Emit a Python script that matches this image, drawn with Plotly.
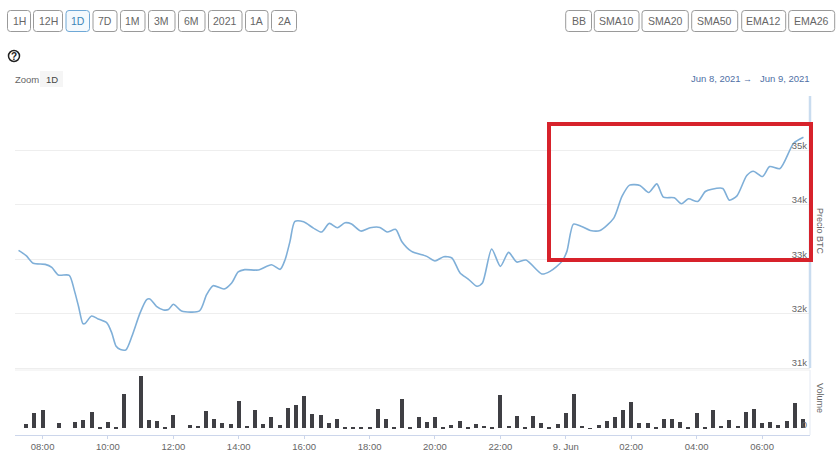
import pandas as pd
import plotly.graph_objects as go
from plotly.subplots import make_subplots

W = 840
H = 455

# price line
price_times = [
    "06-08 07:16", "06-08 07:30", "06-08 07:43", "06-08 08:05", "06-08 08:17", "06-08 08:29",
    "06-08 08:49", "06-08 08:58", "06-08 09:06", "06-08 09:14", "06-08 09:18", "06-08 09:30",
    "06-08 09:42", "06-08 09:58", "06-08 10:07", "06-08 10:15", "06-08 10:23", "06-08 10:33",
    "06-08 10:44", "06-08 10:59", "06-08 11:11", "06-08 11:17", "06-08 11:29", "06-08 11:42",
    "06-08 11:51", "06-08 12:00", "06-08 12:15", "06-08 12:48", "06-08 13:01", "06-08 13:13",
    "06-08 13:33", "06-08 13:47", "06-08 13:59", "06-08 14:11", "06-08 14:36", "06-08 15:00",
    "06-08 15:16", "06-08 15:25", "06-08 15:34", "06-08 15:43", "06-08 15:59", "06-08 16:17",
    "06-08 16:32", "06-08 16:46", "06-08 17:01", "06-08 17:15", "06-08 17:27", "06-08 17:44",
    "06-08 18:01", "06-08 18:19", "06-08 18:32", "06-08 18:48", "06-08 18:59", "06-08 19:17",
    "06-08 19:45", "06-08 20:00", "06-08 20:16", "06-08 20:31", "06-08 20:46", "06-08 21:01",
    "06-08 21:17", "06-08 21:27", "06-08 21:44", "06-08 22:00", "06-08 22:15", "06-08 22:30",
    "06-08 22:47", "06-08 23:16", "06-08 23:31", "06-08 23:53", "06-09 00:02", "06-09 00:14",
    "06-09 00:29", "06-09 00:45", "06-09 01:03", "06-09 01:28", "06-09 01:43", "06-09 01:57",
    "06-09 02:16", "06-09 02:32", "06-09 02:47", "06-09 02:59", "06-09 03:19", "06-09 03:32",
    "06-09 03:45", "06-09 04:02", "06-09 04:16", "06-09 04:28", "06-09 04:48", "06-09 05:00",
    "06-09 05:14", "06-09 05:32", "06-09 05:44", "06-09 06:01", "06-09 06:14", "06-09 06:33",
    "06-09 06:58", "06-09 07:16",
]
price_values = [
    33162, 33065, 32924, 32905, 32850, 32710,
    32704, 32441, 32135, 31817, 31817, 31957,
    31902, 31829, 31646, 31401, 31340, 31334,
    31584, 32013, 32257, 32269, 32135, 32068,
    32074, 32172, 32049, 32049, 32349, 32514,
    32453, 32563, 32765, 32808, 32802, 32899,
    32814, 32991, 33327, 33694, 33688, 33572,
    33499, 33658, 33578, 33670, 33646, 33517,
    33578, 33584, 33499, 33548, 33327, 33144,
    33052, 32967, 33046, 33022, 32746, 32636,
    32502, 32563, 33187, 32869, 33126, 32948,
    32985, 32728, 32777, 32960, 33144, 33645,
    33602, 33529, 33529, 33755, 34153, 34361,
    34355, 34226, 34385, 34141, 34128, 34018,
    34110, 34061, 34245, 34287, 34300, 34086,
    34165, 34538, 34618, 34520, 34703, 34667,
    35131, 35241,
]

# one bar every 15 minutes from 07:30 to 07:15 next day
volume_values = [
    12, 46, 54, 0, 15, 0, 19, 26, 50, 5, 19, 3,
    104, 0, 158, 25, 23, 2, 40, 0, 10, 8, 52, 29,
    15, 12, 81, 8, 56, 12, 33, 10, 62, 70, 96, 44,
    41, 17, 29, 5, 5, 5, 5, 57, 27, 5, 88, 5,
    33, 19, 34, 5, 10, 23, 4, 12, 6, 4, 100, 6,
    36, 4, 36, 17, 2, 12, 46, 103, 8, 1, 10, 23,
    33, 54, 79, 17, 15, 3, 27, 29, 19, 4, 46, 2,
    54, 8, 25, 8, 48, 58, 17, 19, 10, 23, 77, 29,
]

x_ticks = ["06-08 08:00", "06-08 10:00", "06-08 12:00", "06-08 14:00", "06-08 16:00", "06-08 18:00",
           "06-08 20:00", "06-08 22:00", "06-09 00:00", "06-09 02:00", "06-09 04:00", "06-09 06:00"]
x_labels = ["08:00", "10:00", "12:00", "14:00", "16:00", "18:00",
            "20:00", "22:00", "9. Jun", "02:00", "04:00", "06:00"]
price_ticks = [31000, 32000, 33000, 34000, 35000, 36000]
price_labels = ["31k", "32k", "33k", "34k", "35k", ""]

left_buttons = ["1H", "12H", "1D", "7D", "1M", "3M", "6M", "2021", "1A", "2A"]
left_edges = [(7.5, 30.5), (33.5, 62.5), (66, 89.5), (93, 117), (120.5, 145), (148.5, 175),
              (178.5, 205), (208.5, 242), (245.5, 268), (271.5, 296.5)]
right_buttons = ["BB", "SMA10", "SMA20", "SMA50", "EMA12", "EMA26"]
right_edges = [(565.7, 591.5), (594.3, 639), (642, 688.3), (691.7, 737.7), (741.7, 785.7), (788.7, 834.7)]


def ts(s):
    return pd.Timestamp("2021-" + s)


def px_x(x):
    return x / W


def px_y(y):
    return 1 - y / H


def round_rect(x0, y0, x1, y1, r=3):
    a, b, c, d = px_x(x0), px_y(y0), px_x(x1), px_y(y1)
    rx, ry = r / W, r / H
    return (f"M{a + rx},{b} L{c - rx},{b} Q{c},{b} {c},{b - ry} L{c},{d + ry} Q{c},{d} {c - rx},{d} "
            f"L{a + rx},{d} Q{a},{d} {a},{d + ry} L{a},{b - ry} Q{a},{b} {a + rx},{b} Z")


def label(fig, x, y, text, size=10, color="#666666", anchor="center", angle=0, family="Liberation Sans"):
    fig.add_annotation(x=px_x(x), y=px_y(y), xref="paper", yref="paper", text=text, showarrow=False,
                       xanchor=anchor, yanchor="middle", textangle=angle,
                       font=dict(size=size, color=color, family=family))


fig = make_subplots(rows=2, cols=1, shared_xaxes=True)

fig.add_trace(go.Scatter(x=[ts(t) for t in price_times], y=price_values, mode="lines",
                         line=dict(color="#7fafd8", width=1.6, shape="spline", smoothing=0.7),
                         showlegend=False), row=1, col=1)

bar_times = pd.date_range("2021-06-08 07:30", periods=len(volume_values), freq="15min")
fig.add_trace(go.Bar(x=bar_times, y=volume_values, width=440000, marker=dict(color="#3f3f44", line_width=0),
                     showlegend=False), row=2, col=1)

x_range = [pd.Timestamp("2021-06-08 07:09:30"), pd.Timestamp("2021-06-09 07:28:00")]
x_domain = [15 / W, 810 / W]

fig.update_xaxes(domain=x_domain, range=x_range, showgrid=False, zeroline=False, row=1, col=1,
                 showticklabels=False, ticks="", showline=False)
fig.update_xaxes(domain=x_domain, range=x_range, showgrid=False, zeroline=False, row=2, col=1,
                 tickmode="array", tickvals=[ts(t) for t in x_ticks], ticktext=x_labels,
                 ticks="outside", ticklen=3, tickcolor="#ccd6eb", showline=True, linecolor="#ccd6eb",
                 linewidth=1, tickfont=dict(size=9.5, color="#666666", family="Liberation Sans"))

# price axis runs a little below 31k so plotly keeps the inside 31k label
fig.update_yaxes(domain=[(H - 373.45) / H, (H - 96) / H], range=[30900, 36000], side="right",
                 tickmode="array", tickvals=price_ticks, ticktext=price_labels,
                 ticklabelposition="inside", ticklabelshift=-5, showgrid=True, gridcolor="#eeeeee", gridwidth=1,
                 zeroline=False, showline=False, ticks="",
                 tickfont=dict(size=9.5, color="#666666", family="Liberation Sans"), row=1, col=1)
fig.update_yaxes(domain=[(H - 435) / H, (H - 370) / H], range=[-20, 175], side="right",
                 tickmode="array", tickvals=[0], ticktext=["0"],
                 ticklabelposition="inside", ticklabelshift=-4, showgrid=False, zeroline=False, showline=False,
                 ticks="", tickfont=dict(size=9.5, color="#666666", family="Liberation Sans"), row=2, col=1)

shapes = []
for (x0, x1), name in zip(left_edges + right_edges, left_buttons + right_buttons):
    active = name == "1D"
    shapes.append(dict(type="path", xref="paper", yref="paper", path=round_rect(x0, 10.5, x1, 31.5),
                       line=dict(color="#6fa8d6" if active else "#9a9a9a", width=1),
                       fillcolor="#f4f9fd" if active else "#ffffff"))
    label(fig, (x0 + x1) / 2, 21, name, size=10.5, color="#3d85b8" if active else "#666666")

# ? icon, zoom box, panel frames, red highlight
shapes.append(dict(type="circle", xref="paper", yref="paper", x0=px_x(8.5), x1=px_x(19.5), y0=px_y(61.5),
                   y1=px_y(50.5), line=dict(color="#222222", width=1.5)))
shapes.append(dict(type="rect", xref="paper", yref="paper", x0=px_x(40), x1=px_x(63), y0=px_y(87), y1=px_y(71),
                   line_width=0, fillcolor="#f5f5f5", layer="below"))
shapes.append(dict(type="line", xref="paper", yref="paper", x0=px_x(810), x1=px_x(810), y0=px_y(96), y1=px_y(368),
                   line=dict(color="#c9dcef", width=2.5)))
shapes.append(dict(type="line", xref="paper", yref="paper", x0=px_x(810), x1=px_x(810), y0=px_y(370), y1=px_y(435),
                   line=dict(color="#e3e9f3", width=1)))
shapes.append(dict(type="line", xref="paper", yref="paper", x0=px_x(15), x1=px_x(810), y0=px_y(370), y1=px_y(370),
                   line=dict(color="#eeeeee", width=1)))
shapes.append(dict(type="rect", xref="paper", yref="paper", x0=px_x(549), x1=px_x(811), y0=px_y(260), y1=px_y(124),
                   line=dict(color="#d7222b", width=4)))
fig.update_layout(shapes=shapes)

label(fig, 14, 56.5, "<b>?</b>", size=10, color="#222222", anchor="center")
label(fig, 12.5, 79, "Zoom", size=9.5, anchor="left")
label(fig, 51.5, 79, "1D", size=9.5, color="#444444")
label(fig, 688.5, 78.5, "Jun 8, 2021", size=9.5, color="#4f6fa5", anchor="left")
label(fig, 747, 78.5, "→", size=9, color="#4f6fa5")
label(fig, 757.5, 78.5, "Jun 9, 2021", size=9.5, color="#4f6fa5", anchor="left")
label(fig, 820, 231, "Precio BTC", size=9, angle=90)
label(fig, 820, 398, "Volume", size=9, angle=90)

fig.update_layout(width=W, height=H, margin=dict(l=0, r=0, t=0, b=0), paper_bgcolor="#ffffff",
                  plot_bgcolor="#ffffff", bargap=0, showlegend=False)

fig.write_html("out.html", config=dict(displayModeBar=False),
               post_script="document.body.style.margin='0';document.body.style.overflow='hidden';")
